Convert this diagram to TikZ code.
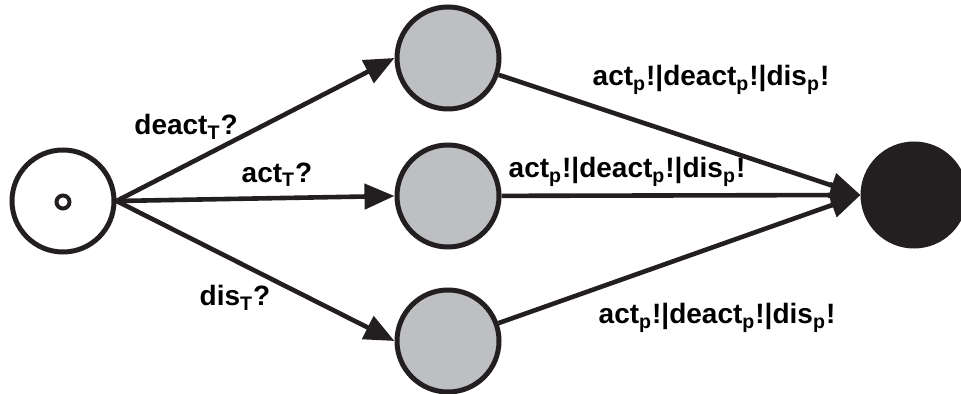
\documentclass[tikz,border=0pt]{standalone}
\usepackage{fontspec}
\setmainfont{Liberation Sans}
\usetikzlibrary{arrows.meta}
\definecolor{stategray}{RGB}{190,191,195}
\definecolor{inkblack}{RGB}{35,31,32}
\newcommand{\actlist}{act\textsubscript{p}!|deact\textsubscript{p}!|dis\textsubscript{p}!}
\begin{document}
\begin{tikzpicture}[x=0.5pt, y=-0.5pt,
  every node/.style = {font=\fontsize{14}{16}\selectfont\bfseries},
  state/.style = {shape=circle, draw=inkblack, line width=2.5pt,
    minimum size=51pt, inner sep=0pt},
  edge/.style = {draw=inkblack, line width=2.3pt,
    -{Triangle[length=15pt,width=12.5pt]}}]
  \useasboundingbox (0,0) rectangle (961,394);
  % states
  \node[state, fill=white] (init) at (63,201) {};
  \node[circle, draw=inkblack, line width=2pt, minimum size=6.5pt,
    inner sep=0pt] (dot) at (63,202) {};
  \node[state, fill=stategray] (deact) at (448,58) {};
  \node[state, fill=stategray] (act) at (448,196) {};
  \node[state, fill=stategray] (dis) at (448,341) {};
  \node[state, fill=inkblack] (done) at (914,195) {};
  % transitions
  \draw[edge] (init.east) -- (deact.west);
  \draw[edge] (init.east) -- (act.west);
  \draw[edge] (init.east) -- (dis.west);
  \draw[edge] (deact) -- (done.west);
  \draw[edge] (act) -- (done.west);
  \draw[edge] (dis) -- (done.west);
  % labels
  \node (ldeact) at (186,127) {deact\textsubscript{T}?};
  \node (lact) at (277,175) {act\textsubscript{T}?};
  \node (ldis) at (235,298) {dis\textsubscript{T}?};
  \node (ltop) at (711,80) {\actlist};
  \node (lmid) at (627,172) {\actlist};
  \node (lbot) at (717,318) {\actlist};
\end{tikzpicture}
\end{document}
